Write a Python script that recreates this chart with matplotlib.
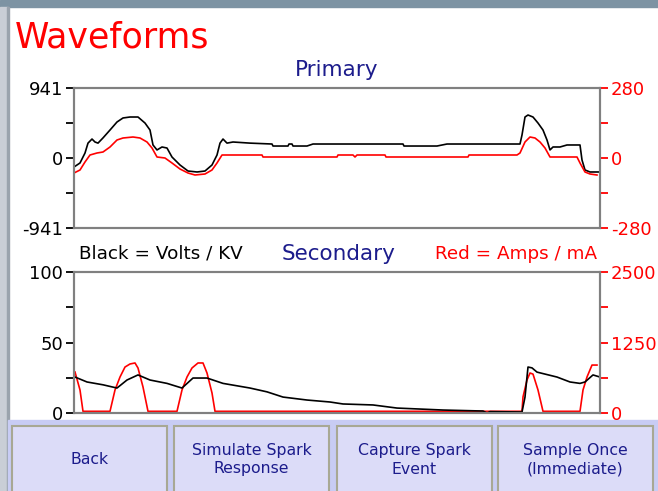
import matplotlib
matplotlib.use("Agg")
import matplotlib.pyplot as plt
from matplotlib.patches import Rectangle

plt.rcParams['font.family'] = ['DejaVu Sans']
plt.rcParams['axes.unicode_minus'] = False

# ---- data (sample index across the sweep, 0..526) ----
pri_volt_t = [0, 6, 11, 14, 18, 21, 24, 29, 36, 43, 49, 56, 64, 71, 76, 79, 83, 88, 93, 98,
              106, 114, 123, 131, 138, 143, 146, 149, 153, 159, 176, 198, 199, 214, 215, 218,
              219, 233, 239, 329, 330, 363, 373, 446, 448, 451, 454, 459, 464, 469, 473, 476,
              479, 486, 493, 506, 508, 511, 516, 526]
pri_volt = [-121, -67, 67, 200, 255, 215, 200, 270, 376, 484, 538, 551, 551, 470, 376, 175, 108,
            148, 134, 13, -94, -175, -188, -175, -94, 40, 200, 255, 200, 215, 200, 188, 161, 161,
            188, 188, 161, 161, 188, 188, 161, 161, 188, 188, 309, 551, 578, 551, 470, 376, 242,
            108, 148, 148, 175, 175, -27, -161, -188, -188]

pri_amp_t = [0, 6, 11, 16, 23, 29, 36, 43, 49, 59, 66, 73, 78, 83, 91, 98, 106, 114, 121, 131,
             138, 143, 148, 188, 189, 263, 264, 279, 281, 283, 311, 312, 394, 395, 443, 446, 451,
             456, 461, 466, 471, 476, 503, 506, 511, 516, 523]
pri_amp = [-60, -48, -16, 12, 20, 24, 44, 72, 80, 84, 80, 64, 40, 4, 0, -20, -44, -60, -68, -64,
           -48, -20, 12, 12, 4, 4, 12, 12, 4, 12, 12, 4, 4, 12, 12, 20, 64, 84, 80, 64, 40, 4, 4,
           -20, -56, -64, -68]

sec_kv_t = [1, 13, 29, 43, 53, 64, 76, 93, 108, 119, 133, 149, 176, 193, 209, 233, 256, 269, 299,
            323, 369, 409, 413, 416, 448, 451, 454, 458, 463, 483, 496, 506, 511, 519, 526]
sec_kv = [25.5, 22, 20, 17.7, 23.4, 27, 23.4, 21, 17.7, 24.8, 24.8, 21, 17.7, 15, 11.3, 9.2, 7.8,
          6.4, 5.7, 3.5, 2.1, 1.4, 0, 1, 0.7, 11.3, 32.6, 32, 29, 25.5, 22, 21, 22, 27, 25.5]

sec_ma_t = [1, 6, 9, 36, 41, 46, 51, 56, 61, 64, 69, 74, 103, 108, 113, 118, 124, 129, 133, 138,
            141, 448, 449, 453, 456, 459, 464, 469, 506, 509, 513, 518, 523]
sec_ma = [727, 408, 30, 30, 408, 638, 815, 869, 887, 798, 461, 30, 30, 408, 638, 798, 887, 887,
          709, 355, 30, 30, 284, 585, 709, 690, 408, 30, 30, 408, 638, 850, 850]

pri_left_ticks = [-941, 0, 941]
pri_right_ticks = [-280, 0, 280]
sec_left_ticks = [0, 50, 100]
sec_right_ticks = [0, 1250, 2500]
buttons = ["Back", "Simulate Spark\nResponse", "Capture Spark\nEvent", "Sample Once\n(Immediate)"]

W, H = 658, 491
NAVY = "#1c1c8c"
fig = plt.figure(figsize=(W / 100, H / 100), dpi=100)

# background / frame overlay in pixel units
bg = fig.add_axes([0, 0, 1, 1], zorder=0)
bg.set_xlim(0, W)
bg.set_ylim(H, 0)
bg.axis("off")
bg.add_patch(Rectangle((0, 0), W, 7, color="#7d93a3"))
bg.add_patch(Rectangle((0, 7), 8, H, color="#c9ced6"))
bg.add_patch(Rectangle((7, 7), 1.5, H, color="#9aa3ad"))
bg.add_patch(Rectangle((8, 420), W, H - 420, color="#c8ccf4"))
bx = [12, 174, 337, 498]
for x0, label in zip(bx, buttons):
    bg.add_patch(Rectangle((x0, 426), 155, 70, facecolor="#dcdcf8", edgecolor="#a8a894", lw=1.5))
    bg.text(x0 + 77.5, 460, label, ha="center", va="center", color=NAVY, fontsize=11.3,
            linespacing=1.25)

bg.text(15, 47, "Waveforms", color="#ff0000", fontsize=25, ha="left", va="baseline")
bg.text(337, 70, "Primary", color=NAVY, fontsize=15.5, ha="center", va="center")
bg.text(79, 254, "Black = Volts / KV", color="black", fontsize=13.2, ha="left", va="center")
bg.text(339, 254, "Secondary", color=NAVY, fontsize=15.5, ha="center", va="center")
bg.text(597, 254, "Red = Amps / mA", color="#ff0000", fontsize=13.2, ha="right", va="center")


def make_axes(top, bottom):
    ax = fig.add_axes([74 / W, (H - bottom) / H, 526 / W, (bottom - top) / H], zorder=2)
    ax.patch.set_alpha(0)
    for s in ax.spines.values():
        s.set_color("#808080")
        s.set_linewidth(1.5)
    ax.set_xlim(0, 526)
    ax.set_xticks([])
    ax2 = ax.twinx()
    for s in ax2.spines.values():
        s.set_color("#808080")
        s.set_linewidth(1.5)
    ax.tick_params(axis="y", which="both", length=6, width=1.3, color="black",
                   labelsize=13, pad=2)
    ax2.tick_params(axis="y", which="both", length=6, width=1.3, color="#ff0000",
                    labelcolor="#ff0000", labelsize=13, pad=2)
    return ax, ax2


ax1, ax1r = make_axes(88, 228)
ax1.plot(pri_volt_t, pri_volt, color="black", lw=1.2)
ax1.set_ylim(-941, 941)
ax1.set_yticks(pri_left_ticks)
ax1.set_yticks([-470.5, 470.5], minor=True)
ax1r.plot(pri_amp_t, pri_amp, color="#ff0000", lw=1.2)
ax1r.set_ylim(-280, 280)
ax1r.set_yticks(pri_right_ticks)
ax1r.set_yticks([-140, 140], minor=True)

ax2, ax2r = make_axes(272, 413)
ax2r.plot(sec_ma_t, sec_ma, color="#ff0000", lw=1.2)
ax2r.set_ylim(0, 2500)
ax2r.set_yticks(sec_right_ticks)
ax2r.set_yticks([625, 1875], minor=True)
ax2.set_zorder(3)
ax2.plot(sec_kv_t, sec_kv, color="black", lw=1.2)
ax2.set_ylim(0, 100)
ax2.set_yticks(sec_left_ticks)
ax2.set_yticks([25, 75], minor=True)

fig.savefig("out.png", dpi=100)
